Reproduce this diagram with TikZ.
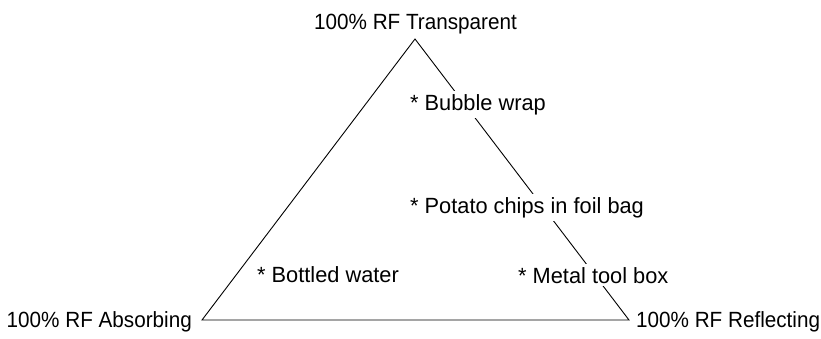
\documentclass[tikz,border=0pt]{standalone}
\usepackage{fontspec}
\setmainfont{Liberation Sans}[FakeStretch=0.94]
\newfontfamily\itemfont{Liberation Sans}[FakeStretch=0.99]
\begin{document}
\begin{tikzpicture}[x=1pt,y=-1pt,
  lbl/.style={font=\fontsize{22}{26}\selectfont, inner sep=0pt},
  item/.style={font=\itemfont\fontsize{22}{26}\selectfont, fill=white, inner sep=3pt, anchor=base west},
  edge/.style={line width=0.9pt, line join=miter}]
\useasboundingbox (0,0) rectangle (821,338);
\coordinate (apex) at (415,39);
\coordinate (bl) at (202,320);
\coordinate (br) at (629,320);
\draw[edge] (apex) -- (bl) -- (br) -- cycle;
\node[lbl, anchor=base] (top) at (415.5,29) {100\% RF Transparent};
\node[lbl, anchor=base east] (absorb) at (192,327) {100\% RF Absorbing};
\node[lbl, anchor=base west] (reflect) at (636,327) {100\% RF Reflecting};
\node[item] (bubble) at (407,110) {* Bubble wrap};
\node[item] (chips) at (407,213) {* Potato chips in foil bag};
\node[item] (tool) at (515,283) {* Metal tool box};
\node[item] (water) at (254,282) {* Bottled water};
\end{tikzpicture}
\end{document}
